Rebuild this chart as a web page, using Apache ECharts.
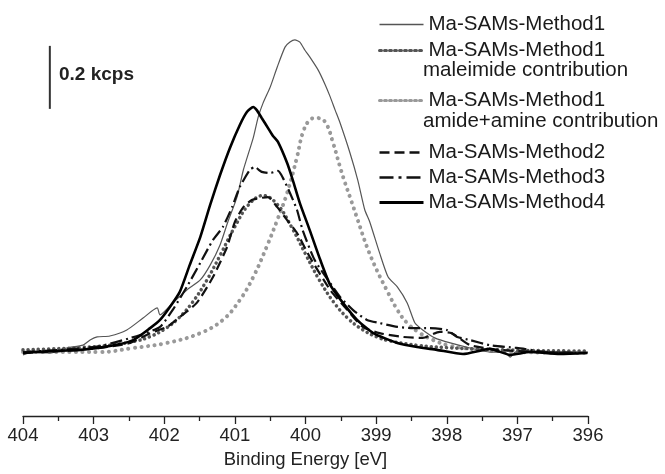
<!DOCTYPE html>
<html>
<head>
<meta charset="utf-8">
<script src="https://cdn.jsdelivr.net/npm/echarts@6/dist/echarts.min.js"></script>
<style>html,body{margin:0;padding:0;background:#fff}#c{width:665px;height:474px}</style>
</head>
<body>
<div id="c"></div>
<script>
// x tick labels (Binding Energy, eV)
const xTicks = [404, 403, 402, 401, 400, 399, 398, 397, 396];

// Ma-SAMs-Method1 (thin line)
const m1E = [404.00,403.86,403.62,403.38,403.15,403.05,402.95,402.77,402.53,402.30,402.10,402.06,401.88,401.68,401.49,401.35,401.21,401.10,400.97,400.88,400.74,400.67,400.60,400.50,400.40,400.29,400.22,400.15,400.08,400.01,399.94,399.82,399.72,399.65,399.58,399.51,399.37,399.26,399.16,399.09,398.95,398.83,398.70,398.56,398.45,398.34,398.17,397.95,397.67,397.39,397.18,397.10,397.03,396.82,396.40,396.00];
const m1V = [-0.006,0.003,0.000,0.016,0.025,0.041,0.051,0.054,0.073,0.111,0.143,0.121,0.159,0.200,0.232,0.279,0.343,0.416,0.495,0.581,0.683,0.749,0.794,0.844,0.908,0.971,0.987,0.994,0.987,0.962,0.940,0.898,0.851,0.813,0.771,0.730,0.635,0.549,0.454,0.416,0.317,0.241,0.210,0.159,0.095,0.073,0.048,0.032,0.016,0.003,0.003,-0.013,0.003,0.006,0.003,0.003];

// Ma-SAMs-Method1 maleimide contribution (fit)
const malE = [404.0,403.6,403.2,402.8,402.4,402.2,402.0,401.8,401.6,401.4,401.2,401.0,400.8,400.6,400.4,400.2,400.0,399.8,399.6,399.4,399.2,399.0,398.8,398.4,398.0,397.6,397.2,396.8,396.4,396.0];
const malV = [0.010,0.013,0.017,0.024,0.038,0.052,0.075,0.110,0.161,0.230,0.314,0.401,0.472,0.500,0.472,0.401,0.314,0.230,0.161,0.110,0.075,0.052,0.038,0.024,0.017,0.013,0.010,0.008,0.007,0.006];

// Ma-SAMs-Method1 amide+amine contribution (fit)
const amE = [404.00,403.48,402.91,402.44,401.96,401.49,401.17,400.93,400.74,400.55,400.40,400.26,400.12,400.04,399.94,399.84,399.72,399.61,399.51,399.44,399.37,399.26,399.13,398.99,398.85,398.70,398.56,398.38,398.19,397.99,397.77,397.49,396.96,396.01];
const amV = [0.003,0.003,0.003,0.016,0.032,0.063,0.105,0.168,0.241,0.337,0.422,0.508,0.622,0.698,0.740,0.746,0.733,0.667,0.590,0.540,0.495,0.422,0.337,0.263,0.200,0.137,0.095,0.063,0.041,0.025,0.016,0.010,0.003,0.000];

// Ma-SAMs-Method2 (dashed)
const m2E = [404.00,403.48,402.91,402.48,402.20,401.96,401.78,401.54,401.31,401.11,401.00,400.88,400.76,400.64,400.53,400.40,400.26,400.12,399.94,399.65,399.41,399.19,398.95,398.62,398.34,398.10,397.93,397.67,397.25,396.69,396.01];
const m2V = [0.000,0.006,0.016,0.032,0.063,0.083,0.114,0.159,0.241,0.337,0.416,0.463,0.486,0.492,0.495,0.463,0.422,0.381,0.305,0.200,0.137,0.083,0.063,0.051,0.048,0.067,0.063,0.025,0.010,0.003,0.000];

// Ma-SAMs-Method3 (dash-dot)
const m3E = [404.00,403.48,402.91,402.34,402.06,401.88,401.68,401.49,401.31,401.17,401.04,400.93,400.79,400.72,400.62,400.50,400.39,400.32,400.22,400.12,400.04,399.87,399.65,399.51,399.33,399.13,398.95,398.70,398.48,398.24,398.00,397.85,397.67,397.39,397.01,396.58,396.01];
const m3V = [0.003,0.010,0.022,0.057,0.083,0.137,0.210,0.286,0.359,0.400,0.463,0.527,0.581,0.590,0.575,0.571,0.578,0.556,0.508,0.454,0.390,0.295,0.222,0.178,0.137,0.105,0.095,0.083,0.079,0.079,0.073,0.051,0.041,0.025,0.016,0.003,0.000];

// Ma-SAMs-Method4 (thick solid)
const m4E = [404.00,403.62,403.19,402.77,402.44,402.20,402.06,401.92,401.78,401.64,401.49,401.35,401.21,401.07,400.93,400.83,400.74,400.69,400.62,400.53,400.46,400.39,400.26,400.18,400.08,399.94,399.79,399.65,399.47,399.27,399.04,398.70,398.42,398.14,397.77,397.39,397.10,396.82,396.40,396.01];
const m4V = [0.000,0.006,0.010,0.022,0.041,0.079,0.105,0.146,0.194,0.279,0.368,0.470,0.565,0.651,0.724,0.765,0.781,0.771,0.746,0.714,0.689,0.670,0.603,0.549,0.476,0.390,0.295,0.216,0.159,0.105,0.063,0.032,0.019,0.010,-0.003,0.013,-0.006,0.003,-0.003,0.000];

// scale bar: 0.2 kcps
const scaleE = [403.62, 403.62];
const scaleV = [0.775, 0.975];
const scaleText = '0.2 kcps';

const names = ['Ma-SAMs-Method1', 'Ma-SAMs-Method1 maleimide contribution', 'Ma-SAMs-Method1 amide+amine contribution', 'Ma-SAMs-Method2', 'Ma-SAMs-Method3', 'Ma-SAMs-Method4'];

const zip = (a, b) => a.map((v, i) => [v, b[i]]);
const FONT = "'Liberation Sans', Arial, sans-serif";

const chart = echarts.init(document.getElementById('c'), null, {renderer: 'canvas'});
const legendBase = {
  orient: 'vertical', left: 373, itemWidth: 44, itemHeight: 14, itemGap: 0,
  itemStyle: {opacity: 0},
  textStyle: {fontFamily: FONT, fontSize: 20.5, color: '#1a1a1a', lineHeight: 25},
  formatter: n => n.split(' ')[0],
  selectedMode: false
};
chart.setOption({
  animation: false,
  backgroundColor: '#fff',
  grid: {left: 23, right: 77, top: 38, bottom: 58, containLabel: false},
  xAxis: {
    type: 'value', inverse: true,
    min: Math.min(...xTicks), max: Math.max(...xTicks), interval: 1,
    name: 'Binding Energy [eV]', nameLocation: 'middle', nameGap: 34,
    nameTextStyle: {fontFamily: FONT, fontSize: 18.5, color: '#222'},
    axisLine: {show: true, onZero: false, lineStyle: {color: '#222', width: 1.3}},
    axisTick: {show: true, inside: false, length: 8, lineStyle: {color: '#222', width: 1.3}},
    minorTick: {show: true, splitNumber: 2, length: 5, lineStyle: {color: '#222', width: 1.3}},
    axisLabel: {fontFamily: FONT, fontSize: 18.5, color: '#222', margin: 10},
    splitLine: {show: false}
  },
  yAxis: {type: 'value', min: -0.2, max: 1.0, show: false, splitLine: {show: false}},
  legend: [
    Object.assign({}, legendBase, {top: 7, itemGap: 1, data: [
      {name: names[0], lineStyle: {width: 1.5}},
      {name: names[1], lineStyle: {width: 3, type: [2, 3]}}
    ]}),
    Object.assign({}, legendBase, {top: 83, data: [
      {name: names[2], lineStyle: {width: 3, type: [2, 3]}}
    ]}),
    Object.assign({}, legendBase, {top: 135, data: [
      {name: names[3], lineStyle: {width: 2.5, type: [10, 5]}},
      {name: names[4], lineStyle: {width: 2.5, type: [14, 5, 3, 5]}},
      {name: names[5], lineStyle: {width: 3}}
    ]})
  ],
  graphic: [
    {type: 'text', left: 423, top: 60, style: {text: 'maleimide contribution', font: "20.5px 'Liberation Sans', Arial", fill: '#1a1a1a'}},
    {type: 'text', left: 423, top: 111, style: {text: 'amide+amine contribution', font: "20.5px 'Liberation Sans', Arial", fill: '#1a1a1a'}},
    {type: 'text', left: 59, top: 65, style: {text: scaleText, font: "bold 19px 'Liberation Sans', Arial", fill: '#222'}}
  ],
  series: [
    {name: names[2], type: 'line', data: zip(amE, amV), symbol: 'none', smooth: 0.4,
     lineStyle: {color: '#999', width: 4, type: [0.1, 6.5], cap: 'round'}, itemStyle: {color: '#999'}},
    {name: names[1], type: 'line', data: zip(malE, malV), symbol: 'none', smooth: 0.4,
     lineStyle: {color: '#555', width: 3.5, type: [0.1, 5], cap: 'round'}, itemStyle: {color: '#555'}},
    {name: names[0], type: 'line', data: zip(m1E, m1V), symbol: 'none', smooth: 0.2,
     lineStyle: {color: '#555', width: 1.2}, itemStyle: {color: '#555'}},
    {name: names[3], type: 'line', data: zip(m2E, m2V), symbol: 'none', smooth: 0.2,
     lineStyle: {color: '#111', width: 2.2, type: [10, 5]}, itemStyle: {color: '#111'}},
    {name: names[4], type: 'line', data: zip(m3E, m3V), symbol: 'none', smooth: 0.2,
     lineStyle: {color: '#111', width: 2.2, type: [12, 4, 2, 4]}, itemStyle: {color: '#111'}},
    {name: names[5], type: 'line', data: zip(m4E, m4V), symbol: 'none', smooth: 0.2,
     lineStyle: {color: '#000', width: 2.6}, itemStyle: {color: '#000'}},
    {name: 'scale', type: 'line', data: zip(scaleE, scaleV), symbol: 'none',
     lineStyle: {color: '#333', width: 2}, silent: true}
  ]
});
</script>
</body>
</html>
